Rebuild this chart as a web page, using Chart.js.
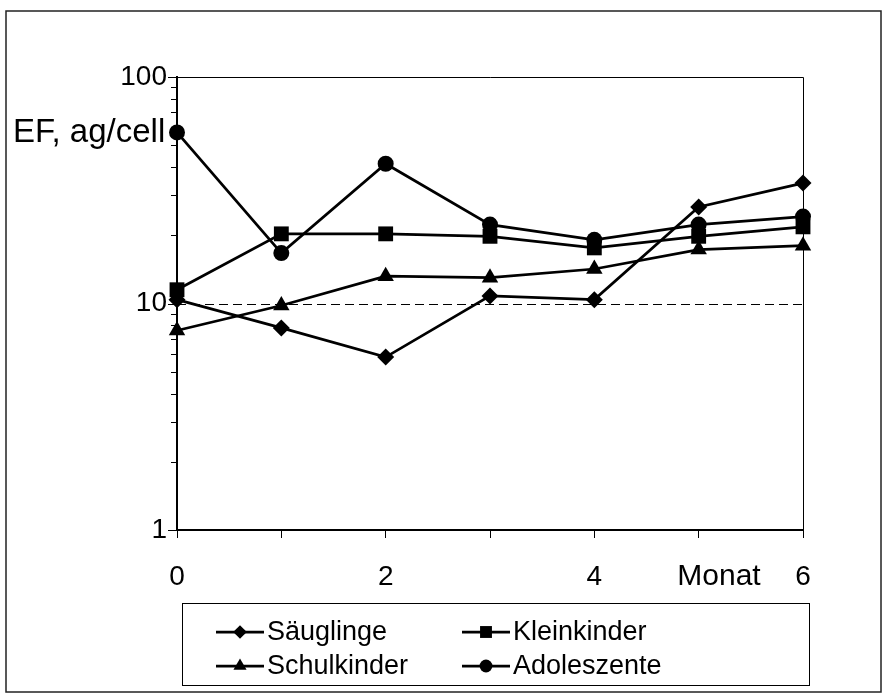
<!DOCTYPE html>
<html>
<head>
<meta charset="utf-8">
<script src="https://cdn.jsdelivr.net/npm/chart.js@4/dist/chart.umd.min.js"></script>
<style>
  body { margin: 0; background: #fff; }
</style>
</head>
<body>
<canvas id="efChart" width="889" height="699"></canvas>
<script>
// Daten
const months = [0, 1, 2, 3, 4, 5, 6];
const saeuglinge = [10.4, 7.8, 5.8, 10.8, 10.4, 26.7, 34.0];
const kleinkinder = [11.5, 20.3, 20.3, 19.8, 17.6, 19.8, 21.8];
const schulkinder = [7.6, 9.8, 13.2, 13.0, 14.2, 17.3, 18.0];
const adoleszente = [56.9, 16.7, 41.4, 22.3, 19.1, 22.3, 24.2];
const seriesNames = ["Säuglinge", "Kleinkinder", "Schulkinder", "Adoleszente"];
const xTickLabels = ["0", "", "2", "", "4", "", "6"];
const yTickLabels = { 1: "1", 10: "10", 100: "100" };
const yTitle = "EF, ag/cell";
const xTitle = "Monat";

const FONT = "'Liberation Sans', Arial, sans-serif";
const markers = [
  { style: "rectRot", radius: 8.5 },
  { style: "rect", radius: 10.5 },
  { style: "triangle", radius: 9.5 },
  { style: "circle", radius: 8 },
];

function makeDataset(i, values) {
  return {
    label: seriesNames[i],
    data: months.map((m, k) => ({ x: m, y: values[k] })),
    borderColor: "#000",
    borderWidth: 2.75,
    pointStyle: markers[i].style,
    pointRadius: markers[i].radius,
    pointBackgroundColor: "#000",
    pointBorderColor: "#000",
    pointBorderWidth: 0,
    tension: 0,
    clip: false,
  };
}

// Rahmen, Hilfslinie, Achsenmarken, Beschriftungen und Legende
const extrasPlugin = {
  id: "extras",
  beforeDatasetsDraw(chart) {
    const { ctx, chartArea, scales } = chart;
    const y10 = scales.y.getPixelForValue(10);
    ctx.save();
    ctx.strokeStyle = "#000";
    ctx.lineWidth = 1;
    ctx.setLineDash([9, 5]);
    ctx.beginPath();
    ctx.moveTo(chartArea.left, Math.round(y10) + 0.5);
    ctx.lineTo(chartArea.right, Math.round(y10) + 0.5);
    ctx.stroke();
    ctx.setLineDash([]);
    // obere und rechte Begrenzung der Zeichenfläche
    ctx.beginPath();
    ctx.moveTo(chartArea.left, Math.round(chartArea.top) + 0.5);
    ctx.lineTo(Math.round(chartArea.right) + 0.5, Math.round(chartArea.top) + 0.5);
    ctx.lineTo(Math.round(chartArea.right) + 0.5, chartArea.bottom);
    ctx.stroke();
    ctx.restore();
  },
  afterDraw(chart) {
    const { ctx, chartArea, scales } = chart;
    ctx.save();

    // äußerer Rahmen
    ctx.strokeStyle = "#222";
    ctx.lineWidth = 1.5;
    ctx.strokeRect(6, 11, 875, 681);

    // Teilstriche der log. Achse
    ctx.strokeStyle = "#000";
    ctx.lineWidth = 1;
    for (let d = 1; d <= 100; d *= 10) {
      for (let k = 1; k <= 9; k++) {
        const v = k * d;
        if (v > 100) break;
        const py = Math.round(scales.y.getPixelForValue(v)) + 0.5;
        const len = k === 1 ? 9 : 6;
        ctx.beginPath();
        ctx.moveTo(chartArea.left - len, py);
        ctx.lineTo(chartArea.left, py);
        ctx.stroke();
      }
    }

    // Achsentitel
    ctx.fillStyle = "#000";
    ctx.textBaseline = "middle";
    ctx.font = "33px " + FONT;
    ctx.textAlign = "left";
    ctx.fillText(yTitle, 13, 133);
    ctx.font = "30px " + FONT;
    ctx.textAlign = "center";
    ctx.fillText(xTitle, 719, 577);

    // Legende
    ctx.lineWidth = 1;
    ctx.strokeStyle = "#000";
    ctx.strokeRect(182.5, 603.5, 627, 82);
    ctx.font = "27px " + FONT;
    const cols = [216, 462];
    const rows = [632, 666];
    for (let i = 0; i < seriesNames.length; i++) {
      const lx = cols[i % 2];
      const ly = rows[Math.floor(i / 2)];
      ctx.lineWidth = 2.75;
      ctx.beginPath();
      ctx.moveTo(lx, ly);
      ctx.lineTo(lx + 48, ly);
      ctx.stroke();
      ctx.fillStyle = "#000";
      Chart.helpers.drawPoint(ctx, {
        pointStyle: markers[i].style,
        radius: markers[i].radius * 0.8,
        borderWidth: 0,
        rotation: 0,
      }, lx + 24, ly);
      ctx.textAlign = "left";
      ctx.fillText(seriesNames[i], lx + 51, ly + 1);
    }
    ctx.restore();
  },
};

const ctx = document.getElementById("efChart").getContext("2d");

new Chart(ctx, {
  type: "line",
  data: {
    datasets: [
      makeDataset(0, saeuglinge),
      makeDataset(1, kleinkinder),
      makeDataset(2, schulkinder),
      makeDataset(3, adoleszente),
    ],
  },
  options: {
    responsive: false,
    animation: false,
    layout: { padding: { left: 0, top: 77, right: 86, bottom: 0 } },
    plugins: {
      legend: { display: false },
      tooltip: { enabled: false },
    },
    scales: {
      x: {
        type: "linear",
        min: 0,
        max: 6,
        grid: { drawOnChartArea: false, drawTicks: true, tickLength: 8, tickColor: "#000", tickWidth: 1 },
        border: { color: "#000", width: 2 },
        ticks: {
          stepSize: 1,
          autoSkip: false,
          maxRotation: 0,
          padding: 22,
          color: "#000",
          font: { family: FONT, size: 28 },
          callback: (v) => xTickLabels[v] ?? "",
        },
        afterFit: (s) => { s.height = 169; },
      },
      y: {
        type: "logarithmic",
        min: 1,
        max: 100,
        grid: { drawOnChartArea: false, drawTicks: false },
        border: { color: "#000", width: 2 },
        ticks: {
          autoSkip: false,
          padding: 10,
          color: "#000",
          font: { family: FONT, size: 28 },
          callback: (v) => yTickLabels[v] ?? "",
        },
        afterFit: (s) => { s.width = 177; },
      },
    },
  },
  plugins: [extrasPlugin],
});
</script>
</body>
</html>
